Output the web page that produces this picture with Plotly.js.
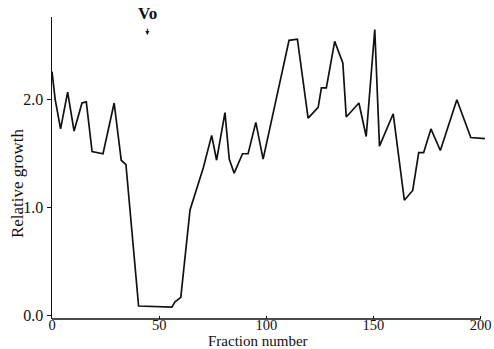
<!DOCTYPE html>
<html>
<head>
<meta charset="utf-8">
<script src="https://cdn.plot.ly/plotly-3.0.1.min.js"></script>
<style>html,body{margin:0;padding:0;background:#fff;}#chart{width:494px;height:349px;}</style>
</head>
<body>
<div id="chart"></div>
<script>
const fraction = [0, 1.5, 4, 7.3, 10.3, 14, 16, 18.7, 23.8, 29, 32.3, 34.5, 40.4, 55.9, 57.4, 60.1, 64.4, 70.6, 74.5, 76.8, 80.7, 82.7, 85, 88.9, 91.5, 95.1, 98.5, 110.6, 114.5, 119.5, 124.2, 125.7, 128, 131.9, 135.7, 137.3, 143.2, 146.6, 150.6, 152.8, 159.2, 164.4, 168.3, 171.1, 173.4, 176.8, 181.2, 188.9, 195.4, 202];
const growth = [2.26, 2.0, 1.73, 2.07, 1.71, 1.97, 1.98, 1.52, 1.50, 1.97, 1.44, 1.40, 0.09, 0.08, 0.13, 0.17, 0.98, 1.37, 1.67, 1.44, 1.88, 1.45, 1.32, 1.50, 1.50, 1.79, 1.45, 2.55, 2.56, 1.83, 1.93, 2.11, 2.11, 2.54, 2.34, 1.84, 1.97, 1.66, 2.65, 1.57, 1.87, 1.07, 1.16, 1.51, 1.51, 1.73, 1.53, 2.00, 1.65, 1.64];
const xTicks = [0, 50, 100, 150, 200];
const xTickText = ["0", "50", "100", "150", "200"];
const yTicks = [0, 1, 2];
const yTickText = ["0.0", "1.0", "2.0"];
const markerX = 44.5;
const markerLabel = "Vo";

const font = {family: "Liberation Serif, serif", color: "#111"};

Plotly.newPlot("chart", [{
  x: fraction, y: growth, type: "scatter", mode: "lines",
  line: {color: "#111", width: 1.7}, hoverinfo: "skip"
}], {
  width: 494, height: 349,
  margin: {l: 52, r: 8, t: 17, b: 30},
  paper_bgcolor: "#fff", plot_bgcolor: "#fff",
  showlegend: false,
  font: Object.assign({size: 16}, font),
  xaxis: {
    range: [0, 202.5], showgrid: false, zeroline: false, showline: false,
    tickvals: xTicks, ticktext: xTickText, ticks: "inside", ticklen: 3,
    ticklabelstandoff: -5,
    tickcolor: "#111", tickfont: Object.assign({size: 14.5}, font)
  },
  yaxis: {
    range: [-0.03, 2.766], showgrid: false, zeroline: false, showline: true,
    linecolor: "#111", linewidth: 1.5,
    tickvals: yTicks, ticktext: yTickText, ticks: "outside", ticklen: 4,
    tickcolor: "#111", tickfont: Object.assign({size: 16}, font)
  },
  shapes: [{
    type: "line", xref: "x", yref: "paper", x0: 0, x1: 200, y0: 0, y1: 0,
    line: {color: "#111", width: 1.5}
  }],
  annotations: [
    {text: "Fraction number", xref: "paper", yref: "paper", x: 0.475, y: 0, yshift: -22,
     xanchor: "center", yanchor: "middle", showarrow: false, font: Object.assign({size: 15}, font)},
    {text: "Relative growth", xref: "paper", yref: "paper", x: 0, xshift: -35, y: 0.45,
     xanchor: "center", yanchor: "middle",
     textangle: -90, showarrow: false, font: Object.assign({size: 17}, font)},
    {text: markerLabel, xref: "x", yref: "paper", x: markerX, y: 1.013,
     xanchor: "center", yanchor: "middle",
     showarrow: false, font: Object.assign({size: 17, weight: "bold"}, font)},
    {text: "", xref: "x", yref: "paper", x: markerX, y: 0.94, ax: 0, ay: -8,
     showarrow: true, arrowhead: 2, arrowsize: 0.8, arrowwidth: 1, arrowcolor: "#111"}
  ]
}, {displayModeBar: false, staticPlot: true});
</script>
</body>
</html>
